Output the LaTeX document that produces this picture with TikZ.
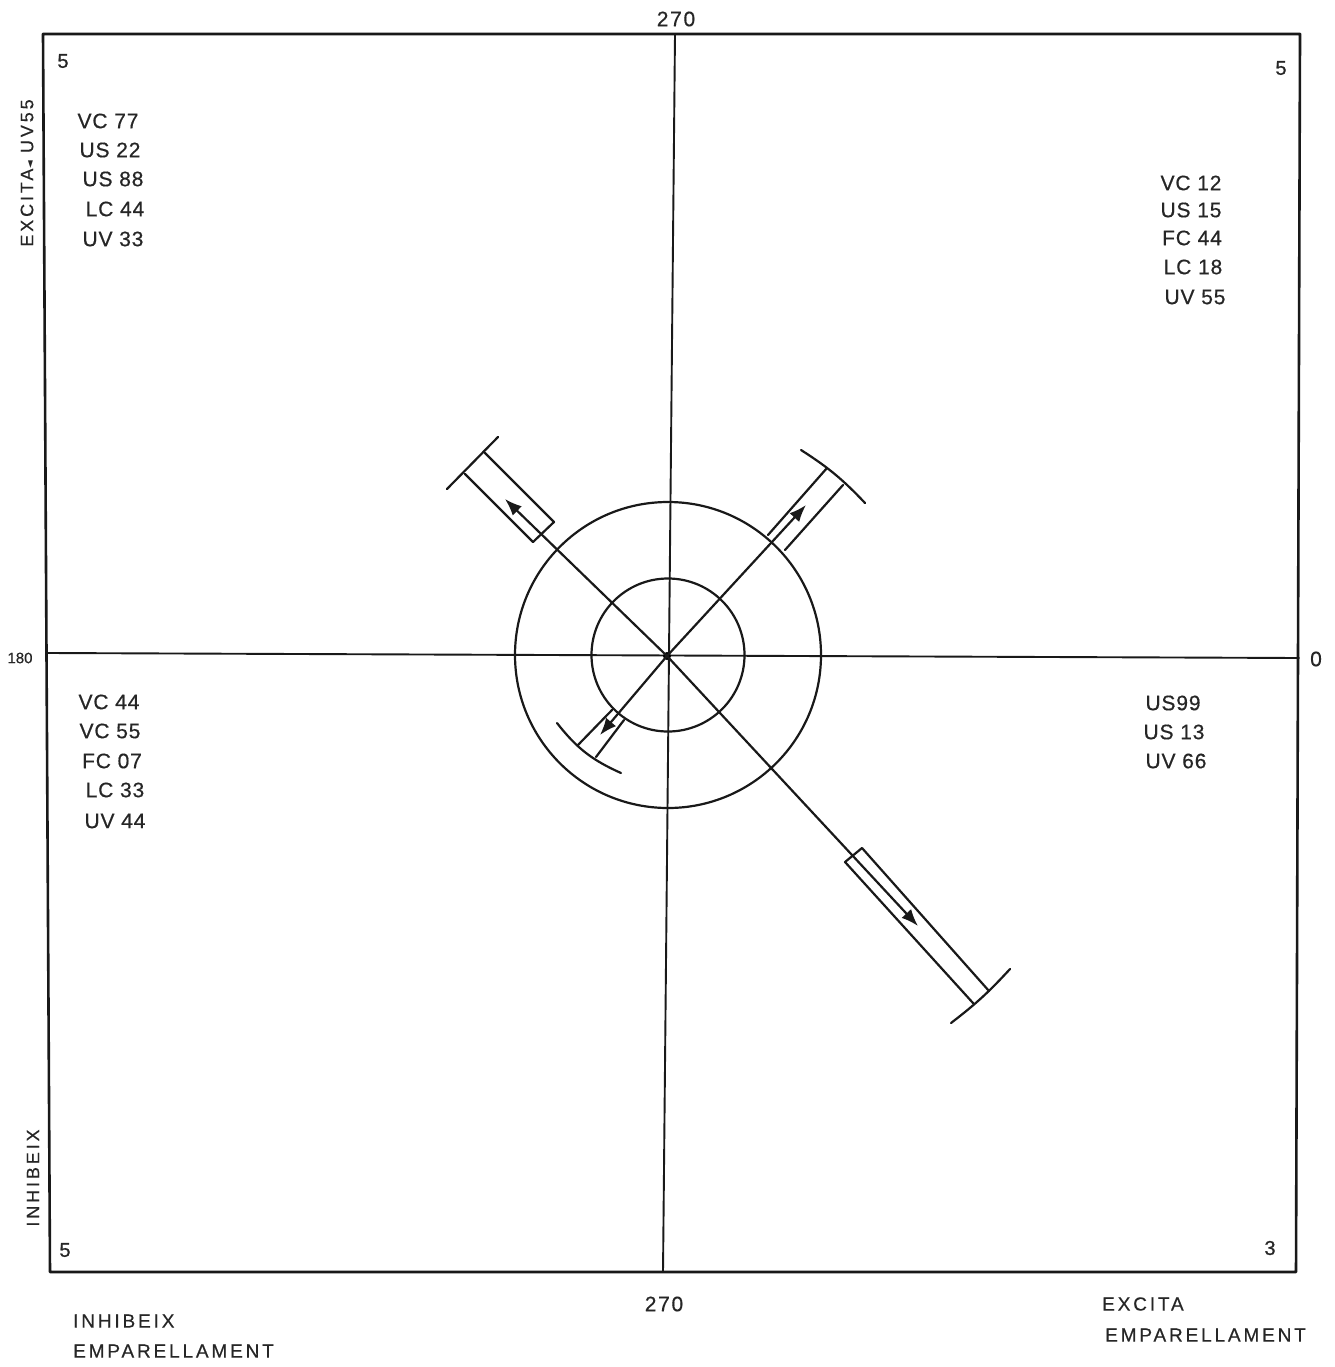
\documentclass[tikz,border=0pt]{standalone}
\usepackage{fontspec}
\setmainfont{Liberation Sans}
\newfontfamily\symfont{DejaVu Sans}
\usetikzlibrary{arrows.meta}
\tikzset{
  ln/.style={draw=black!90,line width=2.2pt,line cap=round,line join=round},
  thin ln/.style={ln,line width=1.9pt},
  tip/.style={ln,-{Latex[length=17pt,width=13pt]}},
  lab/.style={inner sep=0pt,text=black!85,font=\fontsize{21}{24}\selectfont\addfontfeature{LetterSpace=4,FakeBold=0.5}},
  axlab/.style={lab,font=\fontsize{21}{24}\selectfont\addfontfeature{LetterSpace=8,FakeBold=0.5}},
  corner/.style={lab,font=\fontsize{20}{24}\selectfont\addfontfeature{FakeBold=0.8}},
  sidelab/.style={lab,rotate=90,font=\fontsize{18}{20}\selectfont\addfontfeature{LetterSpace=16,FakeBold=0.5}},
  foot/.style={lab,anchor=west,font=\fontsize{19}{22}\selectfont\addfontfeature{LetterSpace=15,FakeBold=0.4}}
}
\begin{document}
\begin{tikzpicture}[x=1pt,y=-1pt]
\useasboundingbox[fill=white] (0,0) rectangle (1334,1367);
% frame
\coordinate (tl) at (43,34);
\coordinate (tr) at (1300,34);
\coordinate (br) at (1296,1272);
\coordinate (bl) at (50,1272);
\draw[ln,line width=2.6pt] (tl) -- (tr) -- (br) -- (bl) -- cycle;
% axes
\coordinate (at) at (675,34);
\coordinate (ab) at (663,1272);
\coordinate (al) at (48,653);
\coordinate (ar) at (1299,658);
\coordinate (o) at (667,656);
\draw[thin ln] (at) -- (ab);
\draw[thin ln] (al) -- (ar);
% circles
\node[ln,circle,minimum size=306pt,inner sep=0pt] (outer) at (668,655) {};
\node[ln,circle,minimum size=153pt,inner sep=0pt] (inner) at (668,655) {};
\fill[black] (o) circle (4pt);
% upper left
\coordinate (ula) at (447,489); \coordinate (ulb) at (498,437);
\coordinate (ul1) at (465,474); \coordinate (ul2) at (485,453);
\coordinate (ul3) at (554,522); \coordinate (ul4) at (533,542);
\coordinate (ultip) at (505,499);
\draw[ln] (ula) -- (ulb);
\draw[ln] (ul1) -- (ul4) -- (ul3) -- (ul2);
\draw[tip] (o) -- (ultip);
% upper right
\coordinate (ura) at (801,450); \coordinate (urb) at (865,503);
\coordinate (ur1) at (827,468); \coordinate (ur2) at (843,485);
\coordinate (ur3) at (785,550); \coordinate (ur4) at (768,535);
\coordinate (urtip) at (806,505);
\draw[ln] (ura) to[bend left=7] (urb);
\draw[ln] (ur1) -- (ur4);
\draw[ln] (ur3) -- (ur2);
\draw[tip] (o) -- (urtip);
% lower left
\coordinate (lla) at (557,723); \coordinate (llb) at (621,773);
\coordinate (ll1) at (578,745); \coordinate (ll2) at (596,757);
\coordinate (ll3) at (624,720); \coordinate (ll4) at (612,710);
\coordinate (lltip) at (600,735);
\draw[ln] (lla) to[bend right=14] (llb);
\draw[ln] (ll1) -- (ll4);
\draw[ln] (ll3) -- (ll2);
\draw[tip] (o) -- (lltip);
% lower right
\coordinate (lra) at (951,1023); \coordinate (lrb) at (1010,969);
\coordinate (lr1) at (973,1003); \coordinate (lr2) at (989,991);
\coordinate (lr3) at (862,848); \coordinate (lr4) at (845,862);
\coordinate (lrtip) at (918,926);
\draw[ln] (lra) to[bend right=5] (lrb);
\draw[ln] (lr1) -- (lr4) -- (lr3) -- (lr2);
\draw[tip] (o) -- (lrtip);
% axis labels
\node[axlab] (n270t) at (676,19) {270};
\node[axlab] (n270b) at (664,1304) {270};
\node[lab,font=\fontsize{15}{18}\selectfont\addfontfeature{FakeBold=0.5}] (n180) at (20,658) {180};
\node[axlab] (n0) at (1316,659) {0};
% corners
\node[corner] (c1) at (63,61) {5};
\node[corner] (c2) at (1281,68) {5};
\node[corner] (c3) at (65,1250) {5};
\node[corner] (c4) at (1270,1248) {3};
% side labels
\node[sidelab] (s1) at (27,173) {EXCITA{\symfont\fontsize{10}{10}\selectfont ◄} UV55};
\node[sidelab] (s2) at (33,1178) {INHIBEIX};
% top left list
\node[lab] (a1) at (108,121) {VC 77};
\node[lab] (a2) at (110,150) {US 22};
\node[lab] (a3) at (113,179) {US 88};
\node[lab] (a4) at (115,209) {LC 44};
\node[lab] (a5) at (113,239) {UV 33};
% top right list
\node[lab] (b1) at (1191,183) {VC 12};
\node[lab] (b2) at (1191,210) {US 15};
\node[lab] (b3) at (1192,238) {FC 44};
\node[lab] (b4) at (1193,267) {LC 18};
\node[lab] (b5) at (1195,297) {UV 55};
% bottom left list
\node[lab] (d1) at (109,702) {VC 44};
\node[lab] (d2) at (110,731) {VC 55};
\node[lab] (d3) at (112,761) {FC 07};
\node[lab] (d4) at (115,790) {LC 33};
\node[lab] (d5) at (115,821) {UV 44};
% bottom right list
\node[lab] (e1) at (1173,703) {US99};
\node[lab] (e2) at (1174,732) {US 13};
\node[lab] (e3) at (1176,761) {UV 66};
% footers
\node[foot] (f1) at (73,1321) {INHIBEIX};
\node[foot] (f2) at (73,1351) {EMPARELLAMENT};
\node[foot] (f3) at (1102,1304) {EXCITA};
\node[foot] (f4) at (1105,1335) {EMPARELLAMENT};
\end{tikzpicture}
\end{document}
